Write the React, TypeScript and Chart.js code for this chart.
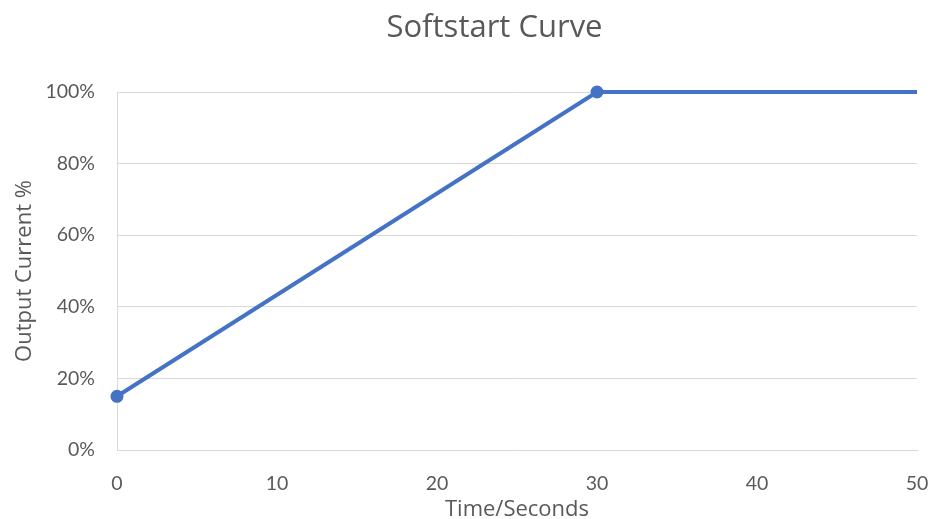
import React, { useEffect, useRef } from "react";
import { Chart, registerables } from "chart.js";

Chart.register(...registerables);

// Softstart ramp: time in seconds vs output current in percent
const timeSeconds = [0, 30, 50];
const outputCurrent = [15, 100, 100];
const markerRadius = [6.5, 6.5, 0];

const xTicks = [0, 10, 20, 30, 40, 50];
const yTicks = [0, 20, 40, 60, 80, 100];

const chartTitle = "Softstart Curve";

const TEXT = "#595959";
const GRID = "#d9d9d9";
const LINE = "#4472c4";

// Title drawn slightly right of the canvas centre, over the plot region
const titlePlugin = {
  id: "softstartTitle",
  afterDraw(chart: any) {
    const { ctx } = chart;
    ctx.save();
    ctx.fillStyle = TEXT;
    ctx.font = "31px 'Open Sans', sans-serif";
    ctx.textAlign = "center";
    ctx.textBaseline = "middle";
    ctx.fillText(chartTitle, 494.5, 28);
    ctx.restore();
  },
};

export default function App() {
  const canvasRef = useRef<HTMLCanvasElement | null>(null);

  useEffect(() => {
    const canvas = canvasRef.current;
    if (!canvas) return;

    const points = timeSeconds.map((t, i) => ({ x: t, y: outputCurrent[i] }));

    const chart = new Chart(canvas, {
      type: "line",
      data: {
        datasets: [
          {
            label: "Output Current",
            data: points,
            borderColor: LINE,
            backgroundColor: LINE,
            borderWidth: 4,
            pointRadius: markerRadius,
            pointHoverRadius: markerRadius,
            pointBorderWidth: 0,
            tension: 0,
            clip: false,
          } as any,
        ],
      },
      options: {
        responsive: false,
        animation: false,
        layout: { padding: { left: 0, right: 14, top: 92, bottom: 0 } },
        plugins: {
          legend: { display: false },
          tooltip: { enabled: false },
          title: { display: false },
        },
        scales: {
          x: {
            type: "linear",
            min: 0,
            max: 50,
            afterBuildTicks: (s: any) => {
              s.ticks = xTicks.map((v) => ({ value: v }));
            },
            afterFit: (s: any) => {
              s.height = 69;
              s.paddingLeft = 0;
              s.paddingRight = 0;
            },
            grid: { display: false, drawTicks: false },
            border: { display: true, color: GRID, width: 1 },
            ticks: {
              color: TEXT,
              padding: 22,
              maxRotation: 0,
              font: { family: "Lato, sans-serif", size: 19.5 },
            },
            title: {
              display: true,
              text: "Time/Seconds",
              color: TEXT,
              font: { family: "'Open Sans', sans-serif", size: 22 },
              padding: { top: 0, bottom: -4 },
            },
          },
          y: {
            type: "linear",
            min: 0,
            max: 100,
            afterBuildTicks: (s: any) => {
              s.ticks = yTicks.map((v) => ({ value: v }));
            },
            afterFit: (s: any) => {
              s.width = 117;
              s.paddingTop = 0;
              s.paddingBottom = 0;
            },
            grid: { display: true, color: GRID, lineWidth: 1, drawTicks: false },
            border: { display: true, color: GRID, width: 1 },
            ticks: {
              color: TEXT,
              padding: 22,
              font: { family: "Lato, sans-serif", size: 19.5 },
              callback: (v: any) => `${v}%`,
            },
            title: {
              display: true,
              text: "Output Current %",
              color: TEXT,
              font: { family: "'Open Sans', sans-serif", size: 22 },
              padding: { top: 11.5, bottom: 0 },
            },
          },
        },
      },
      plugins: [titlePlugin],
    });

    return () => chart.destroy();
  }, []);

  return (
    <div style={{ position: "absolute", left: 0, top: 0, width: 931, height: 519, background: "#fff" }}>
      <canvas ref={canvasRef} width={931} height={519} />
    </div>
  );
}
